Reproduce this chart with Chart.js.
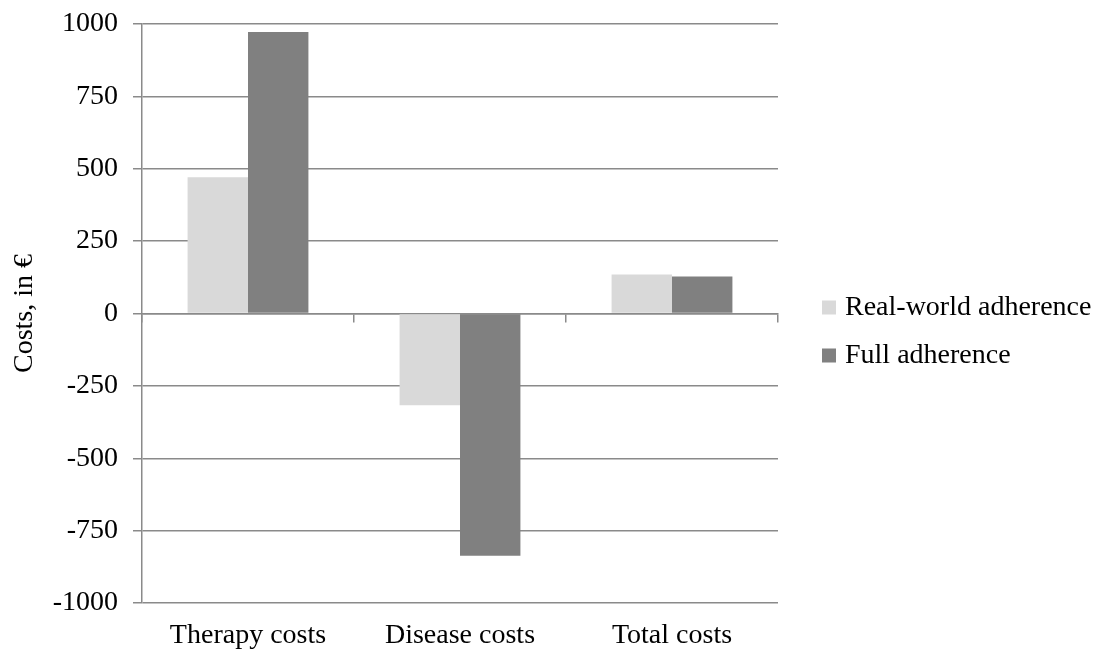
<!DOCTYPE html>
<html>
<head>
<meta charset="utf-8">
<script src="https://cdn.jsdelivr.net/npm/chart.js@4.4.1/dist/chart.umd.min.js"></script>
<style>
  html, body { margin: 0; padding: 0; background: #fff; }
  #wrap { width: 1107px; height: 653px; }
</style>
</head>
<body>
<div id="wrap"><canvas id="costChart"></canvas></div>
<script>
var categories = ['Therapy costs', 'Disease costs', 'Total costs'];
var realWorld = [471, -317, 135];
var fullAdherence = [972, -837, 128];
var yMin = -1000, yMax = 1000, yStep = 250;

var FONT = "'Liberation Serif', 'Times New Roman', serif";
var FSIZE = 28;
var GRID = '#8a8a8a';

// legend on the right, drawn by hand (the built-in one gets squeezed by the layout)
var sideLegend = {
  id: 'sideLegend',
  afterDraw: function (chart) {
    var c = chart.ctx;
    var area = chart.chartArea;
    var x = area.right + 44;
    var y0 = (area.top + area.bottom) / 2 - 6;
    c.save();
    c.font = FSIZE + 'px ' + FONT;
    c.textBaseline = 'middle';
    c.textAlign = 'left';
    chart.data.datasets.forEach(function (ds, i) {
      var y = y0 + i * 48;
      c.fillStyle = ds.backgroundColor;
      c.fillRect(x, y - 7, 14, 14);
      c.fillStyle = '#000';
      c.fillText(ds.label, x + 23, y);
    });
    c.restore();
  }
};

document.addEventListener('DOMContentLoaded', function () {
  var ctx = document.getElementById('costChart').getContext('2d');
  new Chart(ctx, {
    type: 'bar',
    data: {
      labels: categories,
      datasets: [{
        label: 'Real-world adherence',
        data: realWorld,
        backgroundColor: '#d9d9d9',
        borderWidth: 0
      }, {
        label: 'Full adherence',
        data: fullAdherence,
        backgroundColor: '#808080',
        borderWidth: 0
      }]
    },
    plugins: [sideLegend],
    options: {
      responsive: true,
      maintainAspectRatio: false,
      animation: false,
      layout: { padding: { left: 8, top: 24, right: 329, bottom: 0 } },
      datasets: {
        bar: { categoryPercentage: 0.57, barPercentage: 1 }
      },
      plugins: {
        legend: { display: false },
        tooltip: { enabled: false }
      },
      scales: {
        x: {
          grid: { display: false, drawTicks: false },
          border: { display: false },
          ticks: { font: { family: FONT, size: FSIZE }, color: '#000', padding: 16 },
          afterFit: function (s) { s.height = 50; }
        },
        xZero: {
          type: 'category',
          position: { y: 0 },
          offset: true,
          grid: { display: true, drawOnChartArea: false, offset: true, tickLength: 8, color: GRID, lineWidth: 1.5 },
          border: { display: true, color: GRID, width: 1.5 },
          ticks: { display: false }
        },
        y: {
          min: yMin,
          max: yMax,
          grid: { color: GRID, lineWidth: 1.5, tickLength: 9 },
          border: { display: true, color: GRID, width: 1.5 },
          ticks: {
            stepSize: yStep,
            font: { family: FONT, size: FSIZE },
            color: '#000',
            padding: 15,
            callback: function (v) { return String(v); }
          },
          title: {
            display: true,
            text: 'Costs, in €',
            font: { family: FONT, size: FSIZE },
            color: '#000',
            padding: { top: 0, bottom: 10 }
          },
          afterFit: function (s) {
            s.width = 134;
            s.paddingTop = 0;
            s.paddingBottom = 0;
          }
        }
      }
    }
  });
});
</script>
</body>
</html>
